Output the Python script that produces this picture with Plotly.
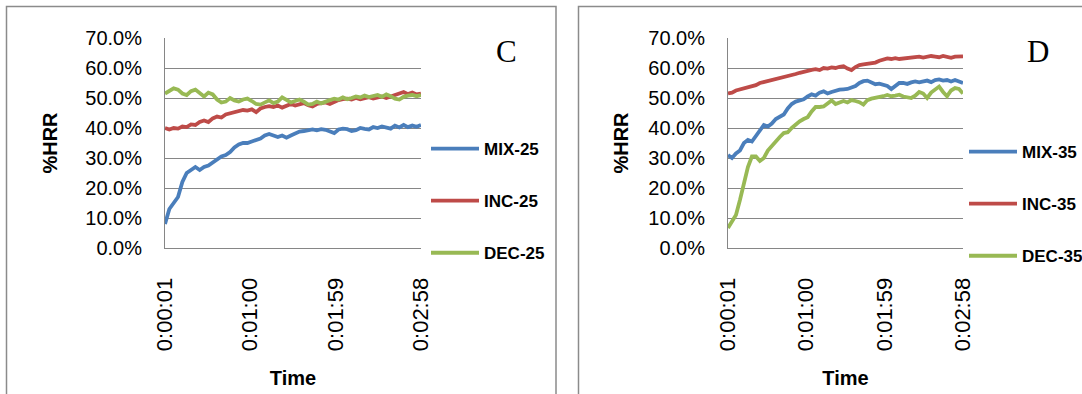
import plotly.graph_objects as go

# time in seconds (sampled every 3 s from 0:00:01 to 0:02:58)
t_sec = list(range(1, 179, 3))
tick_vals = [1, 60, 119, 178]
tick_text = ["0:00:01", "0:01:00", "0:01:59", "0:02:58"]

# Panel C (values in %)
mix25 = [8.0, 13.0, 15.0, 17.0, 22.0, 25.0, 26.0, 27.0, 26.0, 27.0,
         27.5, 28.5, 29.5, 30.5, 31.0, 32.0, 33.5, 34.5, 35.0, 35.0,
         35.5, 36.0, 36.5, 37.5, 38.0, 37.5, 37.0, 37.5, 36.8, 37.5,
         38.2, 38.8, 39.0, 39.3, 39.5, 39.2, 39.6, 39.4, 38.8, 38.3,
         39.5, 39.8, 39.6, 39.0, 39.3, 40.0, 39.7, 39.5, 40.3, 40.0,
         40.5, 40.2, 39.8, 40.8, 40.2, 41.0, 40.3, 40.8, 40.4, 41.0]
inc25 = [40.0, 39.5, 40.0, 39.8, 40.5, 40.3, 41.2, 41.0, 42.0, 42.5,
         42.0, 43.2, 43.8, 43.5, 44.5, 44.8, 45.3, 45.5, 46.0, 45.8,
         46.2, 45.3, 46.5, 47.0, 47.3, 47.0, 47.5, 46.8, 47.5, 48.0,
         47.5, 47.8, 48.3, 47.6, 47.2, 48.0, 48.2, 48.5, 48.0, 48.8,
         49.3, 49.6, 49.8, 49.5, 50.0, 49.6, 49.8, 50.3, 49.8, 50.2,
         50.5, 50.0, 50.4, 50.8, 51.5, 52.0, 51.3, 51.8, 51.2, 51.5]
dec25 = [51.5, 52.5, 53.2, 52.8, 51.5, 51.0, 52.3, 52.8, 51.5, 50.5,
         51.8, 51.2, 49.5, 48.5, 48.8, 50.0, 49.2, 48.8, 49.5, 49.8,
         49.0, 48.0, 47.8, 48.6, 49.2, 48.3, 48.8, 50.2, 49.5, 48.5,
         49.0, 49.5, 48.8, 47.8, 48.0, 48.8, 48.2, 48.6, 49.3, 49.8,
         49.5, 50.2, 49.6, 50.0, 50.5, 50.2, 50.8, 50.3, 50.7, 51.0,
         50.4, 51.2, 50.6, 49.8, 49.5, 50.4, 50.8, 51.0, 50.6, 51.0]

# Panel D (values in %)
mix35 = [31.0, 30.0, 31.5, 32.5, 35.0, 36.0, 35.5, 37.5, 39.5, 41.0,
         40.5, 41.5, 43.0, 43.8, 44.5, 46.5, 48.0, 48.8, 49.2, 49.6,
         50.5, 51.2, 50.8, 51.8, 52.2, 51.5, 52.0, 52.5, 52.8, 52.9,
         53.0, 53.5, 54.0, 55.0, 55.6, 55.8, 55.2, 54.6, 54.8, 54.5,
         54.0, 53.0, 54.2, 55.0, 55.0, 54.7, 55.2, 55.5, 55.2, 55.5,
         55.8, 55.3, 56.0, 56.2, 55.8, 56.0, 55.5, 56.0, 55.6, 55.0]
inc35 = [51.5, 51.8, 52.5, 52.8, 53.2, 53.6, 54.0, 54.3, 55.0, 55.3,
         55.8, 56.2, 56.5, 56.8, 57.0, 57.2, 57.5, 58.0, 58.4, 58.8,
         59.0, 59.4, 59.6, 59.3, 60.0, 59.8, 60.2, 60.0, 60.4, 60.6,
         59.8, 59.3, 60.3, 61.0, 61.2, 61.4, 61.6, 61.8, 62.4, 62.8,
         63.2, 63.0, 63.3, 63.0, 63.2, 63.5, 63.4, 63.6, 63.8, 63.5,
         63.9, 64.0, 63.8, 63.6, 64.0, 63.7, 63.4, 63.8, 64.0, 63.9]
dec35 = [6.7, 9.0, 11.0, 16.0, 21.5, 27.0, 30.5, 30.5, 29.0, 30.0,
         32.5, 34.0, 35.8, 37.0, 38.3, 38.6, 40.0, 41.2, 42.2, 43.0,
         43.6, 45.5, 47.0, 47.0, 47.2, 48.2, 49.2, 48.0, 48.6, 49.0,
         48.5, 49.3, 49.0, 48.6, 47.8, 49.3, 49.8, 50.0, 50.4, 50.6,
         51.0, 50.6, 50.8, 51.1, 50.5, 50.3, 50.0, 50.8, 52.0, 51.5,
         50.0, 51.8, 52.8, 53.8, 52.0, 50.6, 52.5, 53.3, 53.0, 51.5]

BLUE, RED, GREEN = "#4A7EBB", "#BE4B48", "#98B954"
GRID = "#868686"
W, H = 1082, 394
FONT = "Liberation Sans"


def px_x(p):
    return p / W


def px_y(p):
    return 1 - p / H


fig = go.Figure()

panels = [
    ("x", "y", "legend", [("MIX-25", mix25, BLUE), ("INC-25", inc25, RED), ("DEC-25", dec25, GREEN)]),
    ("x2", "y2", "legend2", [("MIX-35", mix35, BLUE), ("INC-35", inc35, RED), ("DEC-35", dec35, GREEN)]),
]
for xa, ya, lg, series in panels:
    for name, vals, col in series:
        fig.add_trace(go.Scatter(
            x=t_sec, y=[v / 100 for v in vals], mode="lines", name=name,
            line=dict(color=col, width=3.8), xaxis=xa, yaxis=ya,
            legend=lg, legendgroup=name,
        ))


def xaxis_cfg():
    return dict(range=[1, 178], tickvals=tick_vals, ticktext=tick_text, tickangle=-90,
                showgrid=False, showline=True, linecolor=GRID, linewidth=1, ticks="",
                zeroline=False, tickfont=dict(family=FONT, size=22, color="#000"),
                ticklabelstandoff=20, automargin=False,
                title=dict(text="<b>Time</b>", font=dict(family=FONT, size=20, color="#000"), standoff=20))


def yaxis_cfg(standoff):
    return dict(range=[0, 0.7], dtick=0.1, tickformat=".1%", showgrid=True, gridcolor=GRID,
                gridwidth=1, showline=True, linecolor=GRID, linewidth=1, ticks="",
                zeroline=False, tickfont=dict(family=FONT, size=20, color="#000"),
                ticklabelstandoff=18, automargin=False,
                title=dict(text="<b>%HRR</b>", font=dict(family=FONT, size=20, color="#000"),
                           standoff=standoff))


fig.update_layout(
    width=W, height=H, margin=dict(l=0, r=0, t=0, b=0, autoexpand=False),
    paper_bgcolor="white", plot_bgcolor="white",
    xaxis=dict(domain=[px_x(165), px_x(421)], anchor="y", **xaxis_cfg()),
    yaxis=dict(domain=[px_y(248), px_y(38)], anchor="x", **yaxis_cfg(22)),
    xaxis2=dict(domain=[px_x(728), px_x(963)], anchor="y2", **xaxis_cfg()),
    yaxis2=dict(domain=[px_y(248), px_y(38)], anchor="x2", **yaxis_cfg(14)),
    legend=dict(x=px_x(426), y=px_y(131), xanchor="left", yanchor="top",
                font=dict(family=FONT, size=17, color="#000", weight="bold"),
                tracegroupgap=27, itemwidth=48, bgcolor="rgba(0,0,0,0)"),
    legend2=dict(x=px_x(964), y=px_y(134), xanchor="left", yanchor="top",
                 font=dict(family=FONT, size=17, color="#000", weight="bold"),
                 tracegroupgap=27, itemwidth=48, bgcolor="rgba(0,0,0,0)"),
    showlegend=True,
)

# panel frames
fig.add_shape(type="rect", xref="paper", yref="paper", x0=px_x(6.5), x1=px_x(556),
              y0=-0.1, y1=px_y(6.5), line=dict(color="#8b8b8b", width=1.5), layer="below")
fig.add_shape(type="rect", xref="paper", yref="paper", x0=px_x(578.5), x1=1.1,
              y0=-0.1, y1=px_y(6.5), line=dict(color="#8b8b8b", width=1.5), layer="below")

# panel letters
for letter, cx in (("C", 506), ("D", 1038)):
    fig.add_annotation(text=letter, xref="paper", yref="paper", x=px_x(cx), y=px_y(52),
                       xanchor="center", yanchor="middle", showarrow=False,
                       font=dict(family="Liberation Serif", size=31, color="#000"))

fig.write_html("out.html")
